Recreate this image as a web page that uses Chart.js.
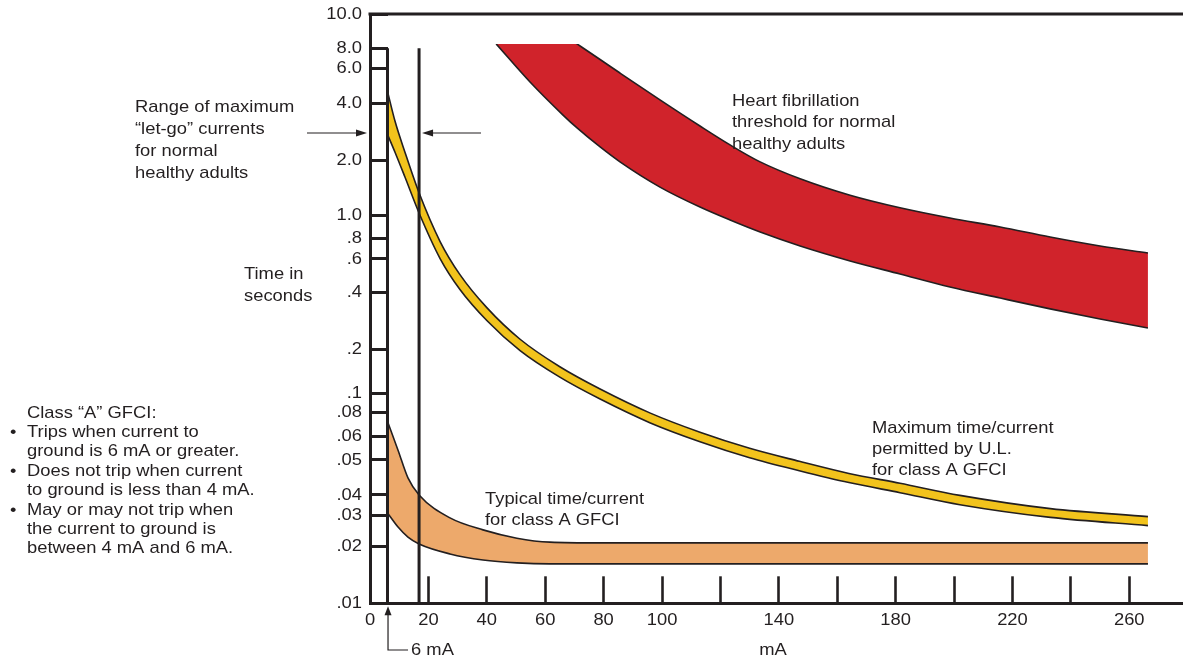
<!DOCTYPE html>
<html>
<head>
<meta charset="utf-8">
<style>
  html, body { margin: 0; padding: 0; background: #fff; }
  #wrap { width: 1183px; height: 658px; }
</style>
<script src="https://cdn.jsdelivr.net/npm/chart.js@4.4.1/dist/chart.umd.min.js"></script>
</head>
<body>
<div id="wrap"><canvas id="gfciChart" width="1183" height="658"></canvas></div>
<script>
// time axis: the printed scale is hand drawn, so each tick value gets its own level
const yTickValues = [10, 8, 6, 4, 2, 1, 0.8, 0.6, 0.4, 0.2, 0.1, 0.08, 0.06, 0.05, 0.04, 0.03, 0.02, 0.01];
const yTickLabels = ['10.0', '8.0', '6.0', '4.0', '2.0', '1.0', '.8', '.6', '.4', '.2', '.1', '.08', '.06', '.05', '.04', '.03', '.02', '.01'];
const yTickLevels = [589.3, 555, 535, 500, 442.6, 388, 365, 344.3, 311, 254, 210, 190.6, 166.6, 143.3, 108.3, 88.3, 56.6, 0];

// current axis (mA)
const xTickValues = [0, 20, 40, 60, 80, 100, 120, 140, 160, 180, 200, 220, 240, 260];
const xLabelValues = [0, 20, 40, 60, 80, 100, 140, 180, 220, 260];
const xMax = 278.4;

// heart fibrillation threshold band (the printed band is cut off at about 8.2 s)
const fibCutoff = 8.23;
const fibCurrent = [43.2, 54.8, 66.1, 70.9, 78.8, 85.6, 99.3, 113, 123.3, 133.6, 147.3, 164.4, 181.5, 198.6, 215.8, 232.9, 250, 266.4];
const fibUpper = [11.8, 10.1, 8.75, 8.23, 6.81, 5.68, 4.16, 3.04, 2.42, 1.97, 1.59, 1.29, 1.10, 0.974, 0.893, 0.810, 0.719, 0.652];
const fibLower = [8.23, 5.12, 3.47, 2.97, 2.36, 1.97, 1.43, 1.11, 0.955, 0.850, 0.719, 0.586, 0.500, 0.427, 0.373, 0.327, 0.289, 0.259];

// maximum time/current permitted by U.L.
const ulCurrent = [6.2, 8.6, 12, 16.8, 24, 30.8, 40, 51.4, 65, 78.8, 96, 113, 130, 147, 164, 181.5, 202, 233, 266.4];
const ulUpper = [4.46, 3.21, 2.21, 1.33, 0.765, 0.496, 0.332, 0.226, 0.152, 0.107, 0.0796, 0.0633, 0.0548, 0.0496, 0.0459, 0.0431, 0.0398, 0.0329, 0.0294];
const ulLower = [2.70, 2.21, 1.62, 1.03, 0.604, 0.414, 0.284, 0.196, 0.129, 0.0936, 0.0708, 0.0577, 0.0509, 0.0467, 0.0433, 0.0406, 0.0348, 0.0291, 0.0262];

// typical time/current for class A GFCI
const typCurrent = [6, 9.6, 13, 16.8, 27.4, 38.7, 50.3, 61.6, 78.8, 120, 180, 266.4];
const typUpper = [0.072, 0.054, 0.0446, 0.040, 0.0289, 0.0248, 0.0223, 0.0212, 0.0210, 0.0210, 0.0210, 0.0210];
const typLower = [0.0309, 0.0257, 0.0226, 0.0207, 0.0183, 0.0170, 0.0164, 0.0162, 0.0162, 0.0162, 0.0162, 0.0162];

// let-go range markers (mA) and their extent (s)
const letGoCurrents = [6, 16.8];
const letGoSpan = [8, 0.01];

const ink = '#231f20';
const font = '"Liberation Sans", Arial, sans-serif';
const fontSize = 17;
const stretch = 1.08;

// seconds -> level on the hand drawn axis (log interpolation between ticks)
function level(v) {
  const n = yTickValues.length;
  let i = 0;
  while (i < n - 2 && v < yTickValues[i + 1]) i++;
  const a = Math.log(yTickValues[i]), b = Math.log(yTickValues[i + 1]);
  const t = (Math.log(v) - a) / (b - a);
  return yTickLevels[i] + t * (yTickLevels[i + 1] - yTickLevels[i]);
}

function points(xs, ys) {
  return xs.map((x, i) => ({ x: x, y: level(ys[i]) }));
}

function band(xs, upper, lower, color, order) {
  const edge = { borderColor: ink, borderWidth: 1.6, pointRadius: 0, cubicInterpolationMode: 'monotone', fill: false };
  const top = Object.assign({}, edge, { data: points(xs, upper), order: order });
  const bottom = Object.assign({}, edge, { data: points(xs, lower), order: order + 1, fill: '-1', backgroundColor: color });
  return [top, bottom];
}

function text(ctx, str, x, y, align) {
  ctx.save();
  ctx.translate(x, y);
  ctx.scale(stretch, 1);
  ctx.textAlign = align || 'left';
  ctx.fillText(str, 0, 0);
  ctx.restore();
}

function lines(ctx, rows, x, y, step) {
  rows.forEach((r, i) => text(ctx, r, x, y + i * step));
}

function arrowHead(ctx, x, y, dx, dy, len, half) {
  ctx.beginPath();
  ctx.moveTo(x, y);
  ctx.lineTo(x - dx * len - dy * half, y - dy * len - dx * half);
  ctx.lineTo(x - dx * len + dy * half, y - dy * len + dx * half);
  ctx.closePath();
  ctx.fill();
}

// the fibrillation band is printed cut flat at its top
const cutPlugin = {
  id: 'cut',
  beforeDatasetsDraw(chart) {
    const a = chart.chartArea;
    const top = chart.scales.y.getPixelForValue(level(fibCutoff));
    chart.ctx.save();
    chart.ctx.beginPath();
    chart.ctx.rect(a.left, top, a.right - a.left, a.bottom - top + 3);
    chart.ctx.clip();
  },
  afterDatasetsDraw(chart) {
    chart.ctx.restore();
  }
};

const labelsPlugin = {
  id: 'labels',
  afterDraw(chart) {
    const ctx = chart.ctx;
    const xs = chart.scales.x, ys = chart.scales.y;
    const area = chart.chartArea;
    ctx.save();
    ctx.fillStyle = ink;
    ctx.strokeStyle = ink;
    ctx.font = fontSize + 'px ' + font;
    ctx.textBaseline = 'middle';

    // top frame line
    ctx.lineWidth = 3;
    ctx.beginPath();
    ctx.moveTo(area.left - 1.5, area.top);
    ctx.lineTo(area.right, area.top);
    ctx.stroke();

    // tick labels
    yTickValues.forEach((v, i) => {
      text(ctx, yTickLabels[i], area.left - 8, ys.getPixelForValue(level(v)), 'right');
    });
    xLabelValues.forEach(v => {
      text(ctx, String(v), xs.getPixelForValue(v), area.bottom + 17, 'center');
    });
    text(ctx, 'mA', xs.getPixelForValue(138), 650, 'center');

    // 6 mA pointer
    const x6 = xs.getPixelForValue(letGoCurrents[0]) + 0.5;
    ctx.lineWidth = 1.2;
    ctx.beginPath();
    ctx.moveTo(x6, area.bottom + 10);
    ctx.lineTo(x6, 650);
    ctx.lineTo(x6 + 20, 650);
    ctx.stroke();
    arrowHead(ctx, x6, area.bottom + 3, 0, -1, 9, 3.5);
    text(ctx, '6 mA', x6 + 23, 650);

    // let-go arrows
    const ya = 133;
    ctx.lineWidth = 1.2;
    ctx.beginPath();
    ctx.moveTo(307, ya);
    ctx.lineTo(360, ya);
    ctx.moveTo(481, ya);
    ctx.lineTo(428, ya);
    ctx.stroke();
    arrowHead(ctx, area.left - 3, ya, 1, 0, 11, 3.5);
    arrowHead(ctx, xs.getPixelForValue(letGoCurrents[1]) + 3, ya, -1, 0, 11, 3.5);

    // annotations
    lines(ctx, ['Range of maximum', '\u201clet-go\u201d currents', 'for normal', 'healthy adults'], 135, 107, 22);
    lines(ctx, ['Time in', 'seconds'], 244, 274, 22);
    lines(ctx, ['Heart fibrillation', 'threshold for normal', 'healthy adults'], 732, 101, 21.5);
    lines(ctx, ['Maximum time/current', 'permitted by U.L.', 'for class A GFCI'], 872, 428, 21);
    lines(ctx, ['Typical time/current', 'for class A GFCI'], 485, 499, 21);

    const gs = 19.4;
    lines(ctx, ['Class \u201cA\u201d GFCI:', 'Trips when current to', 'ground is 6 mA or greater.',
      'Does not trip when current', 'to ground is less than 4 mA.', 'May or may not trip when',
      'the current to ground is', 'between 4 mA and 6 mA.'], 27, 413, gs);
    [1, 3, 5].forEach(i => text(ctx, '\u2022', 10, 413 + i * gs));
    ctx.restore();
  }
};

const letGoSets = letGoCurrents.map(c => ({
  data: points([c, c], letGoSpan),
  borderColor: ink,
  borderWidth: 3,
  pointRadius: 0,
  tension: 0,
  fill: false,
  order: 0
}));

new Chart(document.getElementById('gfciChart'), {
  type: 'line',
  data: {
    datasets: [
      ...letGoSets,
      ...band(ulCurrent, ulUpper, ulLower, '#f2c31c', 1),
      ...band(typCurrent, typUpper, typLower, '#eda96b', 3),
      ...band(fibCurrent, fibUpper, fibLower, '#d0232b', 5)
    ]
  },
  options: {
    responsive: false,
    animation: false,
    layout: { padding: { top: 14, left: 0, right: 0, bottom: 0 } },
    plugins: { legend: { display: false }, tooltip: { enabled: false } },
    scales: {
      x: {
        type: 'linear',
        min: 0,
        max: xMax,
        afterBuildTicks: s => { s.ticks = xTickValues.map(v => ({ value: v })); },
        afterFit: s => { s.height = 54.7; },
        ticks: { display: false },
        grid: { drawOnChartArea: false, tickLength: -27, tickWidth: 2.6, tickColor: ink },
        border: { color: ink, width: 3 }
      },
      y: {
        type: 'linear',
        min: 0,
        max: yTickLevels[0],
        afterBuildTicks: s => { s.ticks = yTickValues.map(v => ({ value: level(v) })); },
        afterFit: s => { s.width = 370; },
        ticks: { display: false },
        grid: { drawOnChartArea: false, tickLength: -18, tickWidth: 3, tickColor: ink },
        border: { color: ink, width: 3 }
      }
    }
  },
  plugins: [cutPlugin, labelsPlugin]
});
</script>
</body>
</html>
